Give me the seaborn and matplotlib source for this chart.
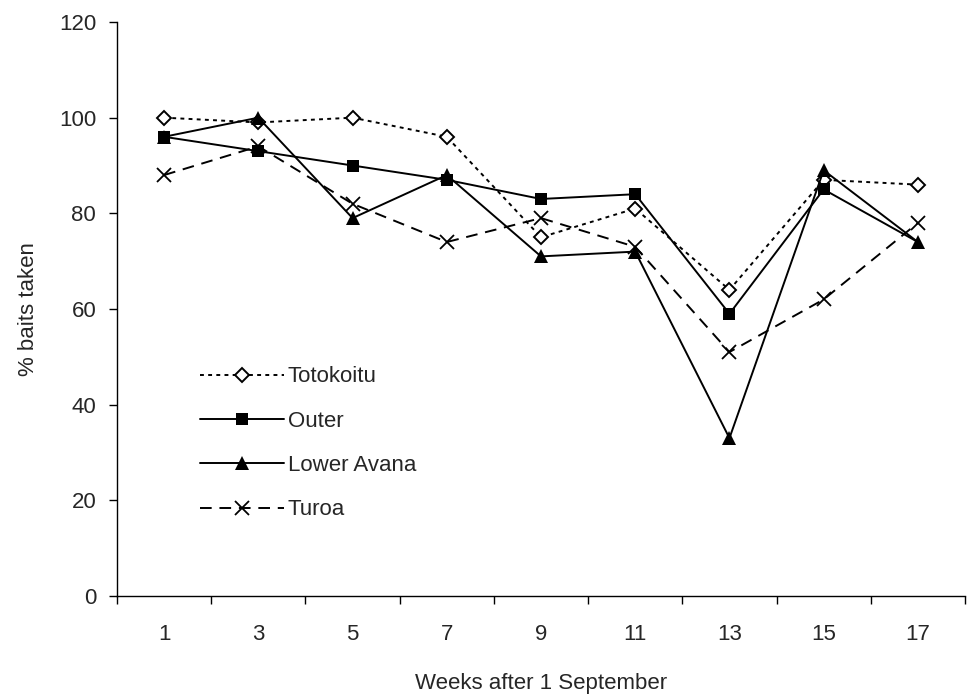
import matplotlib
matplotlib.use("Agg")
import matplotlib.pyplot as plt
import seaborn as sns
import pandas as pd

weeks = ["1", "3", "5", "7", "9", "11", "13", "15", "17"]
totokoitu = [100, 99, 100, 96, 75, 81, 64, 87, 86]
outer = [96, 93, 90, 87, 83, 84, 59, 85, 74]
lower_avana = [96, 100, 79, 88, 71, 72, 33, 89, 74]
turoa = [88, 94, 82, 74, 79, 73, 51, 62, 78]

series = {
    "Totokoitu": totokoitu,
    "Outer": outer,
    "Lower Avana": lower_avana,
    "Turoa": turoa,
}

styles = {
    "Totokoitu": dict(marker="D", markersize=7, markerfacecolor="white", markeredgewidth=1.4, dashes=(2, 2.2)),
    "Outer": dict(marker="s", markersize=8.5, markerfacecolor="black", markeredgewidth=0,
                  markevery=list(range(8)), dashes=""),
    "Lower Avana": dict(marker="^", markersize=10, markerfacecolor="black", markeredgewidth=0, dashes=""),
    "Turoa": dict(marker="x", markersize=10, markeredgewidth=1.3, dashes=(6, 4)),
}

sns.set_style("ticks")
plt.rcParams['font.family'] = ['Liberation Sans', 'DejaVu Sans']
fs = 16

fig = plt.figure(figsize=(9.7, 7), dpi=100)
ax = fig.add_axes([117 / 970, 1 - 596 / 700, 848 / 970, 574 / 700])

for name, vals in series.items():
    df = pd.DataFrame({"pos": range(len(weeks)), "pct": vals})
    st = dict(styles[name])
    dashes = st.pop("dashes")
    sns.lineplot(data=df, x="pos", y="pct", ax=ax, color="black", linewidth=1.4,
                 markeredgecolor="black", label=name, **st)
    if dashes:
        ax.lines[-1].set_dashes(dashes)

ax.set_xlim(-0.5, len(weeks) - 0.5)
ax.set_ylim(0, 120)
ax.set_yticks(range(0, 121, 20))
ax.set_xticks([i - 0.5 for i in range(len(weeks) + 1)])
ax.set_xticklabels([])
ax.set_xticks(range(len(weeks)), minor=True)
ax.set_xticklabels(weeks, minor=True)
ax.tick_params(axis="x", which="major", length=6, width=1, direction="out", color="black")
ax.tick_params(axis="x", which="minor", length=0, pad=20, labelsize=fs)
ax.tick_params(axis="y", length=6, width=1, direction="out", pad=9, labelsize=fs, color="black")
sns.despine(ax=ax)
for s in ["left", "bottom"]:
    ax.spines[s].set_color("black")
    ax.spines[s].set_linewidth(1)

ax.set_xlabel("Weeks after 1 September", fontsize=fs, labelpad=20)
ax.set_ylabel("% baits taken", fontsize=fs, labelpad=14)

ax.legend(loc="upper left", bbox_to_anchor=(0.074, 0.435), frameon=False, fontsize=fs,
          handlelength=3.8, handletextpad=0.15, labelspacing=1.05)

fig.savefig("out.png", dpi=100)
